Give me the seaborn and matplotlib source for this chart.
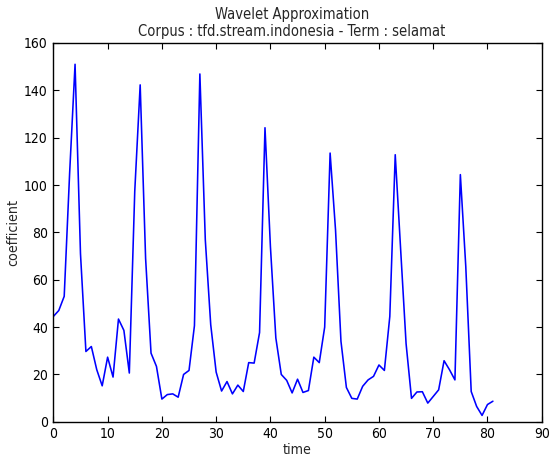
import numpy as np
import pandas as pd
import matplotlib
matplotlib.use("Agg")
import matplotlib.pyplot as plt
import seaborn as sns

# nilai koefisien aproksimasi wavelet
coefficient = [
    44.5, 47, 53, 105, 151, 71, 29.7, 31.8, 22, 15.2,
    27.3, 18.9, 43.4, 38.6, 20.6, 97.3, 142.3, 69, 29, 23.4,
    9.6, 11.5, 11.8, 10.4, 20, 21.7, 40.6, 146.9, 76.9, 41,
    21, 13, 17, 11.8, 15.5, 12.8, 25, 24.8, 37.7, 124.2,
    74, 35.4, 20, 17.5, 12.2, 18, 12.4, 13.2, 27.3, 25,
    40, 113.5, 81, 34, 14.5, 9.9, 9.6, 15, 17.7, 19.2,
    24, 21.7, 44.5, 112.8, 72.7, 33, 9.9, 12.6, 12.7, 7.9,
    10.7, 13.5, 25.8, 22, 17.7, 104.4, 65.6, 12.8, 6.5, 2.7,
    7.3, 8.7,
]
time = list(range(len(coefficient)))

title_lines = ["Wavelet Approximation",
               "Corpus : tfd.stream.indonesia - Term : selamat"]


def main():
    sns.set_style("white")
    plt.rcParams.update({
        "font.family": ["DejaVu Sans"],
        "font.stretch": "condensed",
        "xtick.direction": "in",
        "ytick.direction": "in",
        "xtick.top": True,
        "ytick.right": True,
        "xtick.bottom": True,
        "ytick.left": True,
        "axes.edgecolor": "black",
        "axes.linewidth": 1.0,
        "xtick.major.size": 4,
        "ytick.major.size": 4,
        "xtick.color": "black",
        "ytick.color": "black",
    })

    df = pd.DataFrame({"time": time, "coefficient": coefficient})

    fig = plt.figure(figsize=(5.5, 4.57), dpi=100)
    ax = fig.add_axes([0.097, 0.077, 0.888, 0.829])
    sns.lineplot(data=df, x="time", y="coefficient", color="#0000ff",
                 linewidth=1.15, ax=ax)

    ax.set_xlim(0, 90)
    ax.set_ylim(0, 160)
    ax.set_xticks(np.arange(0, 91, 10))
    ax.set_yticks(np.arange(0, 161, 20))
    ax.tick_params(labelsize=10, pad=4)
    ax.set_xlabel("time", fontsize=10.2, labelpad=1)
    ax.set_ylabel("coefficient", fontsize=10.2, labelpad=3)
    ax.set_title("\n".join(title_lines), fontsize=10.5, pad=5, x=0.488)
    for s in ax.spines.values():
        s.set_visible(True)

    fig.savefig("out.png", dpi=100)
    plt.close(fig)


if __name__ == "__main__":
    main()
